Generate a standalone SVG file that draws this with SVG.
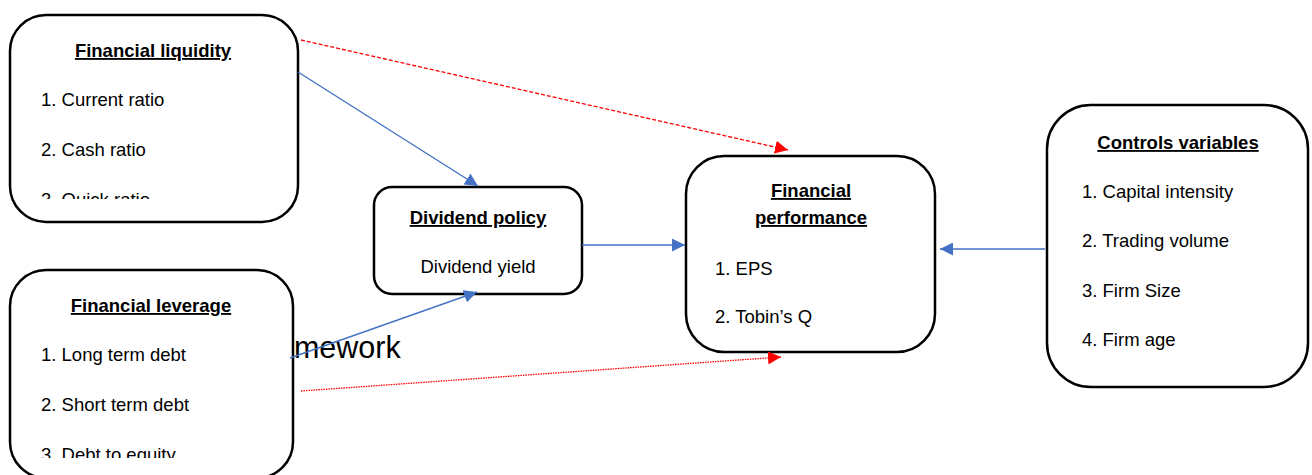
<svg xmlns="http://www.w3.org/2000/svg" width="1312" height="475" viewBox="0 0 1312 475">
<style>
.box{fill:#fff;stroke:#000;stroke-width:2.5}
.t{font-family:"Liberation Sans",Arial,sans-serif;font-size:18.5px;fill:#000}
.h{font-weight:bold;text-decoration:underline;text-anchor:middle}
.blue{stroke:#4472C4;stroke-width:1.4;fill:none}
.red{stroke:#FF0000;stroke-width:1.3;fill:none}
</style>
<defs>
<marker id="ab" viewBox="0 0 10 10" refX="10" refY="5" markerWidth="13" markerHeight="13" markerUnits="userSpaceOnUse" orient="auto"><path d="M0,0L10,5L0,10z" fill="#4472C4"/></marker>
<marker id="ar" viewBox="0 0 10 10" refX="10" refY="5" markerWidth="13" markerHeight="13" markerUnits="userSpaceOnUse" orient="auto"><path d="M0,0L10,5L0,10z" fill="#FF0000"/></marker>
<clipPath id="c1"><rect x="0" y="0" width="400" height="199"/></clipPath>
<clipPath id="c2"><rect x="0" y="260" width="400" height="198"/></clipPath>
</defs>
<text x="277" y="358" style="font-family:'Liberation Sans',Arial,sans-serif;font-size:30.5px;fill:#000">amework</text>
<g id="liquidity">
<rect class="box" x="10" y="15" width="288" height="207" rx="36"/>
<text class="t h" x="153" y="57">Financial liquidity</text>
<g clip-path="url(#c1)">
<text class="t" x="41" y="106">1. Current ratio</text>
<text class="t" x="41" y="156">2. Cash ratio</text>
<text class="t" x="41" y="206">3. Quick ratio</text>
</g>
</g>
<g id="leverage">
<rect class="box" x="10" y="270" width="283" height="208" rx="36"/>
<text class="t h" x="151" y="312">Financial leverage</text>
<g clip-path="url(#c2)">
<text class="t" x="41" y="361">1. Long term debt</text>
<text class="t" x="41" y="411">2. Short term debt</text>
<text class="t" x="41" y="461">3. Debt to equity</text>
</g>
</g>
<g id="dividend">
<rect class="box" x="374" y="187" width="208" height="107" rx="18"/>
<text class="t h" x="478" y="224">Dividend policy</text>
<text class="t" x="478" y="273" text-anchor="middle">Dividend yield</text>
</g>
<g id="performance">
<rect class="box" x="686" y="156" width="249" height="196" rx="38"/>
<text class="t h" x="811" y="197">Financial</text>
<text class="t h" x="811" y="224">performance</text>
<text class="t" x="715" y="275">1. EPS</text>
<text class="t" x="715" y="323">2. Tobin’s Q</text>
</g>
<g id="controls">
<rect class="box" x="1047" y="105" width="261" height="282" rx="44"/>
<text class="t h" x="1178" y="149">Controls variables</text>
<text class="t" x="1082" y="198">1. Capital intensity</text>
<text class="t" x="1082" y="247">2. Trading volume</text>
<text class="t" x="1082" y="297">3. Firm Size</text>
<text class="t" x="1082" y="346">4. Firm age</text>
</g>
<g id="connectors">
<line class="blue" x1="298" y1="72" x2="478" y2="186" marker-end="url(#ab)"/>
<line class="red" x1="301" y1="40" x2="788" y2="150" stroke-dasharray="4,2" marker-end="url(#ar)"/>
<line class="blue" x1="582" y1="245" x2="685" y2="245" marker-end="url(#ab)"/>
<line class="blue" x1="1045" y1="249" x2="940" y2="249" marker-end="url(#ab)"/>
<line class="blue" x1="290" y1="358" x2="477" y2="292" marker-end="url(#ab)"/>
<line class="red" x1="301" y1="391" x2="781" y2="357" stroke-dasharray="1.5,1" marker-end="url(#ar)"/>
</g>
</svg>
